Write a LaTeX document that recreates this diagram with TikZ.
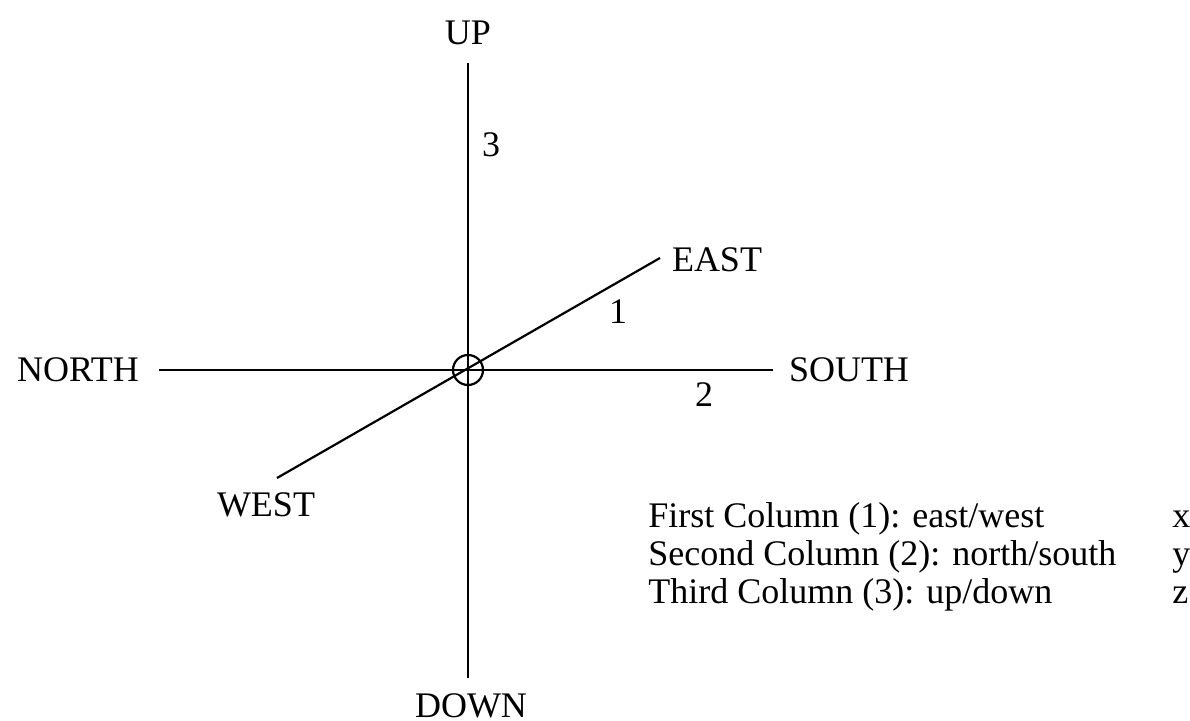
\documentclass[tikz,border=0pt]{standalone}
\usepackage{fontspec}
\setmainfont{Liberation Serif}
\begin{document}
\begin{tikzpicture}[x=0.5pt,y=-0.5pt,
  axis/.style={line width=1.1pt,black},
  lbl/.style={inner sep=0pt,font=\fontsize{18}{22}\selectfont},
  leg/.style={inner sep=0pt,anchor=base west,font=\fontsize{18}{22}\selectfont}]
\useasboundingbox (0,0) rectangle (1190,721);
% axis end points
\coordinate (O) at (468,370);
\coordinate (top) at (468,63);
\coordinate (bot) at (468,678);
\coordinate (lft) at (159,370);
\coordinate (rgt) at (773,370);
\coordinate (ne) at (660,258);
\coordinate (sw) at (277,478);
% axes
\draw[axis] (top) -- (bot);
\draw[axis] (lft) -- (rgt);
\draw[axis] (sw) -- (ne);
\node[draw,circle,line width=1.1pt,minimum size=15pt,inner sep=0pt] (origin) at (O) {};
% end labels
\node[lbl] (up) at (468,33) {UP};
\node[lbl] (down) at (471,706) {DOWN};
\node[lbl] (north) at (78,370) {NORTH};
\node[lbl] (south) at (849,370) {SOUTH};
\node[lbl] (east) at (717,260) {EAST};
\node[lbl] (west) at (266,505) {WEST};
% axis numbers
\node[lbl] (n3) at (491,145) {3};
\node[lbl] (n1) at (618,312) {1};
\node[lbl] (n2) at (704,395) {2};
% legend
\node[leg] (l1) at (648,528) {First Column (1): east/west};
\node[leg] (l2) at (648,566) {Second Column (2): north/south};
\node[leg] (l3) at (648,604) {Third Column (3): up/down};
\node[leg] (vx) at (1172,528) {x};
\node[leg] (vy) at (1172,566) {y};
\node[leg] (vz) at (1172,604) {z};
\end{tikzpicture}
\end{document}
